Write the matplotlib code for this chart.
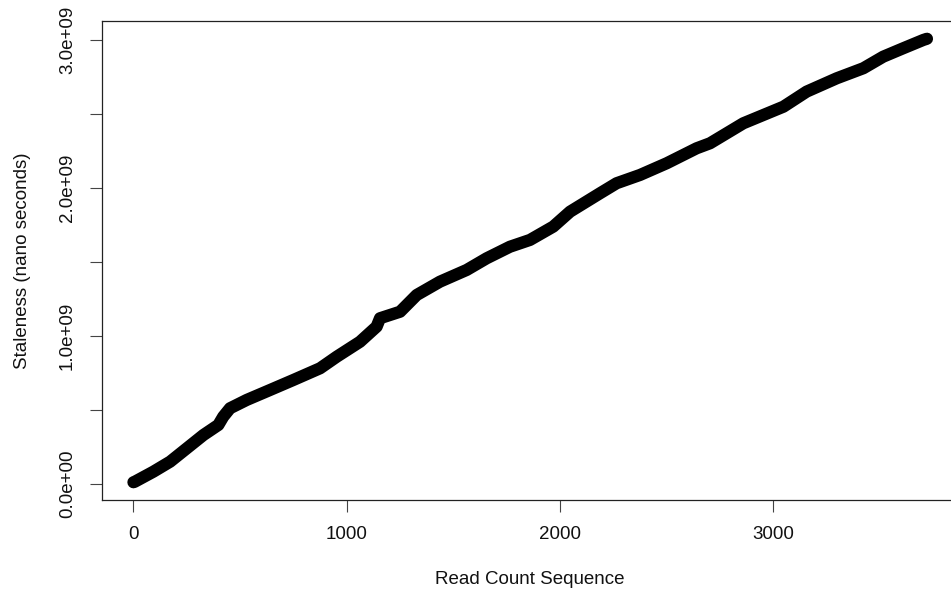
import matplotlib
matplotlib.use("Agg")
import matplotlib.pyplot as plt

plt.rcParams['font.family'] = ['Liberation Sans', 'DejaVu Sans']

# Data (read count index, staleness in ns)
read_seq = [0, 7, 93, 172, 250, 328, 398, 421, 453, 531, 640, 750, 875, 953,
            1062, 1140, 1156, 1250, 1328, 1437, 1562, 1656, 1765, 1859, 1968,
            2047, 2187, 2265, 2375, 2500, 2640, 2703, 2859, 3047, 3156, 3297,
            3422, 3515, 3609, 3703, 3720]
staleness = [0.012e9, 0.016e9, 0.083e9, 0.151e9, 0.241e9, 0.331e9, 0.399e9,
             0.455e9, 0.512e9, 0.568e9, 0.635e9, 0.703e9, 0.782e9, 0.860e9,
             0.961e9, 1.063e9, 1.120e9, 1.164e9, 1.277e9, 1.367e9, 1.446e9,
             1.525e9, 1.603e9, 1.649e9, 1.739e9, 1.840e9, 1.964e9, 2.032e9,
             2.088e9, 2.167e9, 2.268e9, 2.302e9, 2.437e9, 2.549e9, 2.651e9,
             2.741e9, 2.809e9, 2.887e9, 2.944e9, 3.000e9, 3.008e9]

x_ticks = [0, 1000, 2000, 3000]
x_labels = ["0", "1000", "2000", "3000"]
y_ticks = [0, 0.5e9, 1.0e9, 1.5e9, 2.0e9, 2.5e9, 3.0e9]
y_labels = ["0.0e+00", "", "1.0e+09", "", "2.0e+09", "", "3.0e+09"]

W, H = 951, 597
fig = plt.figure(figsize=(W / 100, H / 100), dpi=100)
left, right, top, bottom = 101.7, 958.7, 21, 500
ax = fig.add_axes([left / W, 1 - bottom / H, (right - left) / W, (bottom - top) / H])

ax.plot(read_seq, staleness, color='black', lw=8.8,
        solid_capstyle='round', solid_joinstyle='round')

ax.set_xlim(-148.8, 3868.8)
ax.set_ylim(-0.108e9, 3.128e9)

ax.set_xticks(x_ticks)
ax.set_xticklabels(x_labels)
ax.set_yticks(y_ticks)
ax.set_yticklabels(y_labels, rotation=90, va='center')

FS = 13.5
ax.tick_params(axis='both', direction='out', length=8.5, width=0.8,
               color='#444444', labelsize=FS, pad=10, labelcolor='#111111')

for s in ax.spines.values():
    s.set_linewidth(0.9)
    s.set_color('#222222')

ax.set_xlabel("Read Count Sequence", fontsize=FS, color='#111111', va='center')
ax.xaxis.set_label_coords(0.5, -(580 - bottom) / (bottom - top))
ax.set_ylabel("Staleness (nano seconds)", fontsize=FS, color='#111111', va='center')
ax.yaxis.set_label_coords(-(left - 23) / (right - left), 0.5)

fig.savefig("out.png", dpi=100)
